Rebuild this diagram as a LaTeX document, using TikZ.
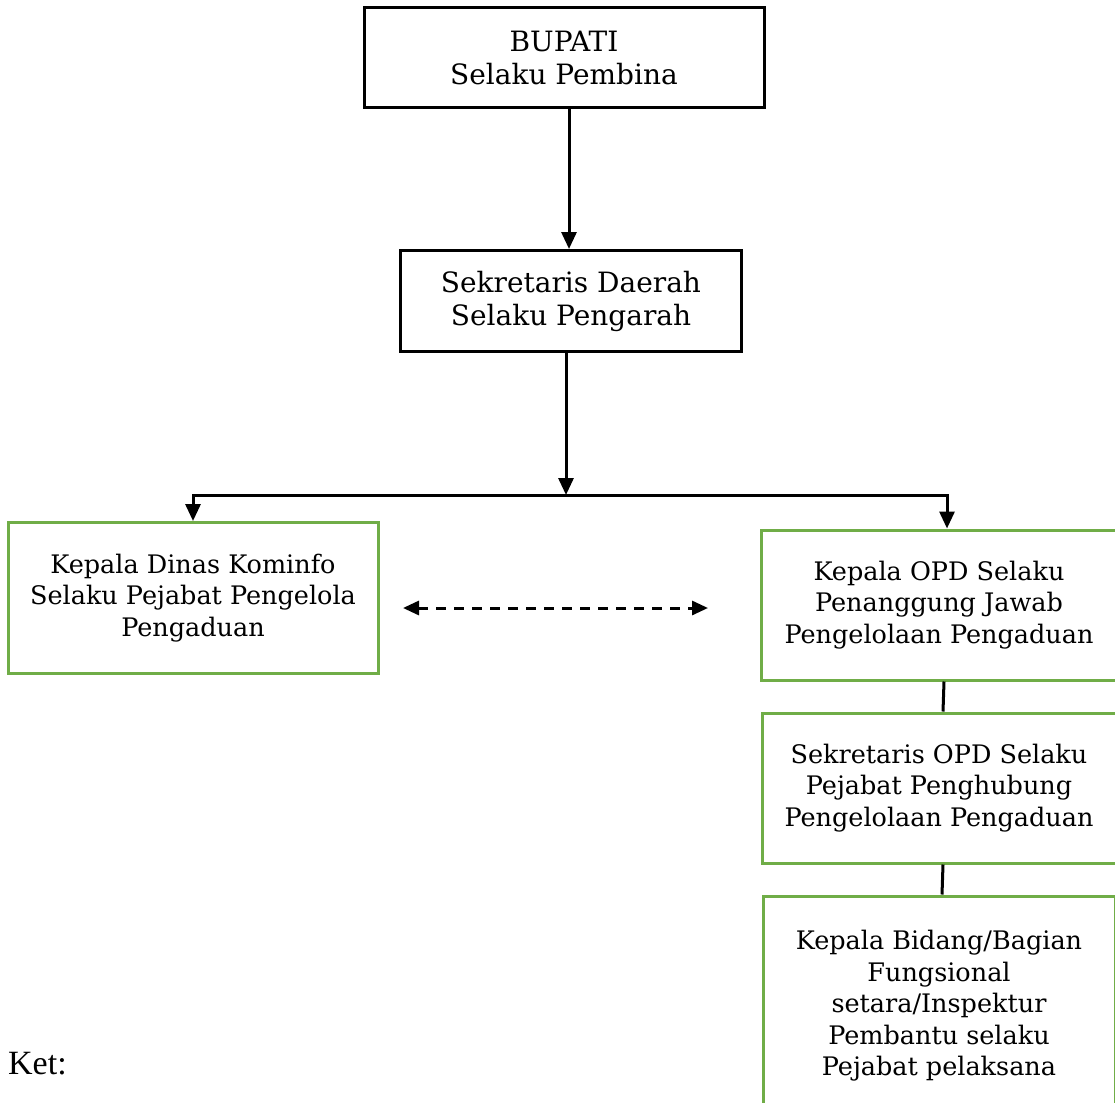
\documentclass[tikz,border=0pt]{standalone}
\usepackage{fontspec}
\setmainfont{DejaVu Serif}
\newfontfamily\ketfont{Liberation Serif}
\usetikzlibrary{arrows.meta, positioning}
\definecolor{boxgreen}{HTML}{70AD47}

\begin{document}
\begin{tikzpicture}[
    x=1pt, y=1pt,
    node distance=30pt,
    box/.style={rectangle, draw, line width=3pt, align=center, font=\fontsize{25.5}{31.5}\selectfont},
    topbox/.style={box, font=\fontsize{28}{33}\selectfont},
    greenbox/.style={box, draw=boxgreen, line width=3pt},
    arrow/.style={-{Triangle[length=17pt,width=15pt]}, line width=3pt},
    dasharrow/.style={{Triangle[length=16pt,width=14pt]}-{Triangle[length=16pt,width=14pt]}, line width=3pt, dash pattern=on 10pt off 8pt}
]
\useasboundingbox (0,0) rectangle (1115,-1102);
\clip (0,0) rectangle (1115,-1102);

\node[topbox, minimum width=400pt, minimum height=100pt] (bupati) at (564,-58) {BUPATI\\Selaku Pembina};
\node[topbox, minimum width=341pt, minimum height=101pt] (sekda) at (571,-301) {Sekretaris Daerah\\Selaku Pengarah};
\node[greenbox, minimum width=370pt, minimum height=151pt] (kominfo) at (193,-598) {Kepala Dinas Kominfo\\Selaku Pejabat Pengelola\\Pengaduan};
\node[greenbox, minimum width=356pt, minimum height=150pt] (opd) at (939,-605) {Kepala OPD Selaku\\Penanggung Jawab\\Pengelolaan Pengaduan};
\node[greenbox, minimum width=354pt, minimum height=150pt, below=of opd] (sekopd) {Sekretaris OPD Selaku\\Pejabat Penghubung\\Pengelolaan Pengaduan};
\node[greenbox, minimum width=352pt, minimum height=220pt, below=of sekopd] (kabid) {Kepala Bidang/Bagian\\Fungsional\\setara/Inspektur\\Pembantu selaku\\Pejabat pelaksana};
\node[anchor=west, inner sep=0pt, font=\ketfont\fontsize{34}{40}\selectfont] (ket) at (8,-1064) {Ket:};

\coordinate (split) at (566,-495);
\coordinate (dl) at (403,-608);
\coordinate (dr) at (708,-608);

\draw[arrow] ([xshift=5pt]bupati.south) -- ([xshift=-2pt]sekda.north);
\draw[arrow] (sekda.south -| split) -- (split);
\draw[arrow] (split) -| (kominfo.north);
\draw[arrow] (split) -| ([xshift=8pt]opd.north);
\draw[dasharrow] (dl) -- (dr);
\draw[line width=3pt] ([xshift=5pt]opd.south) -- ([xshift=4pt]sekopd.north);
\draw[line width=3pt] ([xshift=4pt]sekopd.south) -- ([xshift=3pt]kabid.north);
\end{tikzpicture}
\end{document}
